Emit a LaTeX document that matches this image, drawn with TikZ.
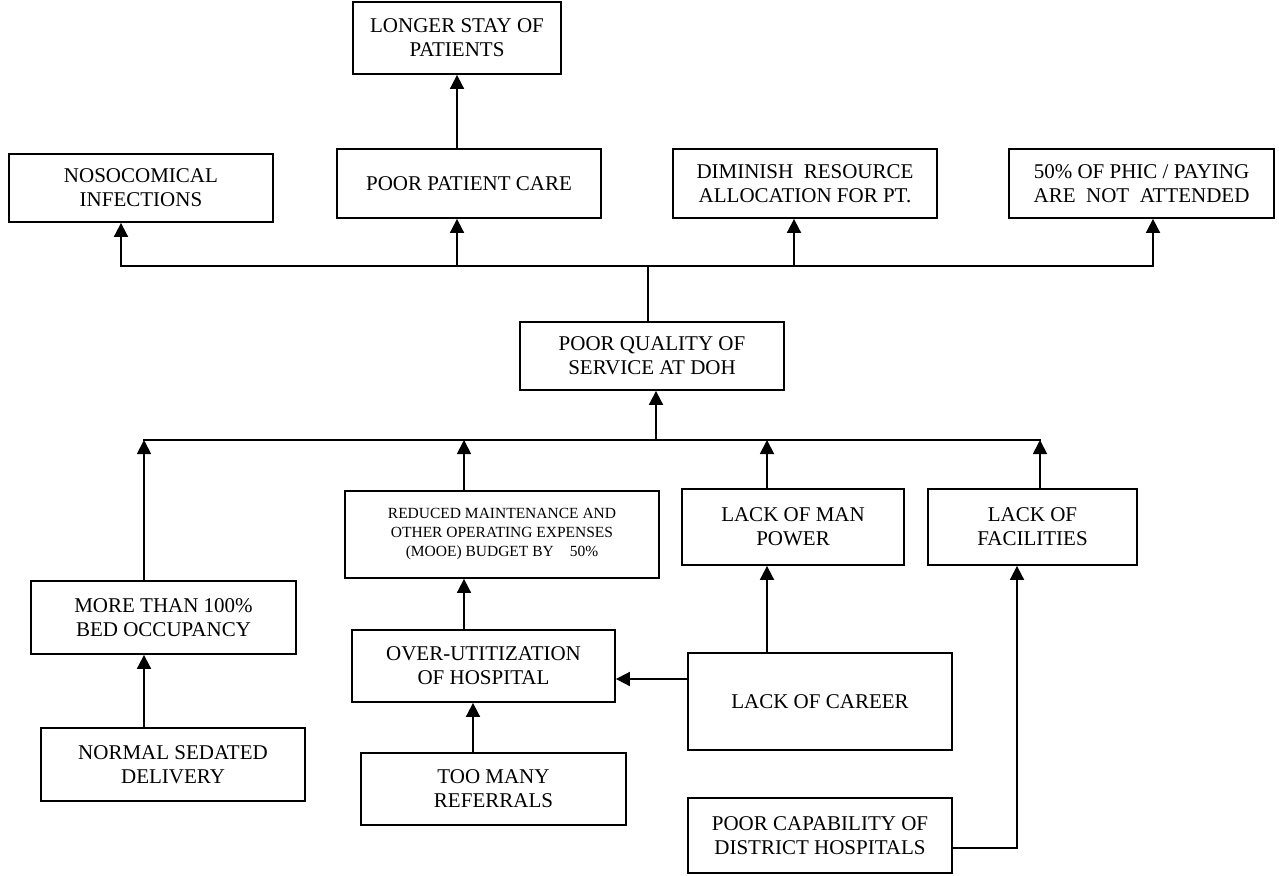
\documentclass[tikz,border=0pt]{standalone}
\usepackage{fontspec}
\setmainfont{Liberation Serif}
\usetikzlibrary{arrows.meta}
\begin{document}
\begin{tikzpicture}[x=1pt,y=-1pt,
  box/.style={draw, line width=1.8pt, rectangle, align=center, inner sep=0pt,
    font=\fontsize{21}{24}\selectfont},
  smallbox/.style={box, font=\fontsize{15.5}{19}\selectfont},
  ln/.style={line width=1.8pt, line cap=rect},
  arr/.style={line width=1.8pt, -{Triangle[width=14pt,length=14pt]}}]
\useasboundingbox (0,0) rectangle (1279,875);

% effects (top row)
\node[box, minimum width=208pt, minimum height=72pt] (longer) at (457,38) {LONGER STAY OF\\PATIENTS};
\node[box, minimum width=264pt, minimum height=68pt] (noso) at (141,188) {NOSOCOMICAL\\INFECTIONS};
\node[box, minimum width=264pt, minimum height=69pt] (ppc) at (469,183.5) {POOR PATIENT CARE};
\node[box, minimum width=264pt, minimum height=69pt] (dim) at (805,183.5) {DIMINISH\ \ RESOURCE\\ALLOCATION FOR PT.};
\node[box, minimum width=265pt, minimum height=69pt] (phic) at (1141.5,183.5) {50\% OF PHIC / PAYING\\ARE\ \ NOT\ \ ATTENDED};

% core problem
\node[box, minimum width=264pt, minimum height=68pt] (pq) at (652,356) {POOR QUALITY OF\\SERVICE AT DOH};

% causes
\node[box, minimum width=265pt, minimum height=73pt] (more) at (163.5,617.5) {MORE THAN 100\%\\BED OCCUPANCY};
\node[box, minimum width=264pt, minimum height=73pt] (normal) at (173,764.5) {NORMAL SEDATED\\DELIVERY};
\node[smallbox, minimum width=314pt, minimum height=87pt] (red) at (502,534.5)
  {REDUCED MAINTENANCE AND\\OTHER OPERATING EXPENSES\\(MOOE) BUDGET BY\hspace{16pt}50\%};
\node[box, minimum width=222pt, minimum height=76pt] (man) at (793,527) {LACK OF MAN\\POWER};
\node[box, minimum width=209pt, minimum height=76pt] (fac) at (1032.5,527) {LACK OF\\FACILITIES};
\node[box, minimum width=263pt, minimum height=72pt] (over) at (483.5,666) {OVER-UTITIZATION\\OF HOSPITAL};
\node[box, minimum width=265pt, minimum height=72pt] (many) at (493.5,789) {TOO MANY\\REFERRALS};
\node[box, minimum width=264pt, minimum height=97pt] (career) at (820,701.5) {LACK OF CAREER};
\node[box, minimum width=264pt, minimum height=75pt] (cap) at (820,835.5) {POOR CAPABILITY OF\\DISTRICT HOSPITALS};

% upper bus
\coordinate (t1) at (121,266);
\coordinate (t2) at (457,266);
\coordinate (t3) at (648,266);
\coordinate (t4) at (794,266);
\coordinate (t5) at (1153,266);
\draw[ln] (t1) -- (t5);
\draw[ln] (pq.north -| t3) -- (t3);
\draw[arr] (t1) -- (t1 |- noso.south);
\draw[arr] (t2) -- (t2 |- ppc.south);
\draw[arr] (t4) -- (t4 |- dim.south);
\draw[arr] (t5) -- (t5 |- phic.south);
\draw[arr] (ppc.north -| t2) -- (longer.south -| t2);

% lower bus
\coordinate (b1) at (144,440);
\coordinate (b2) at (464,440);
\coordinate (bq) at (656,440);
\coordinate (b3) at (767,440);
\coordinate (b4) at (1040,440);
\draw[ln] (b1) -- (b4);
\draw[arr] (bq) -- (bq |- pq.south);
\draw[arr] (more.north -| b1) -- (b1);
\draw[arr] (red.north -| b2) -- (b2);
\draw[arr] (man.north -| b3) -- (b3);
\draw[arr] (fac.north -| b4) -- (b4);

% cause chains
\coordinate (m1) at (473,0);
\coordinate (c1) at (0,679);
\coordinate (k1) at (1017,848);
\draw[arr] (normal.north -| b1) -- (more.south -| b1);
\draw[arr] (over.north -| b2) -- (red.south -| b2);
\draw[arr] (many.north -| m1) -- (over.south -| m1);
\draw[arr] (career.north -| b3) -- (man.south -| b3);
\draw[arr] (career.west |- c1) -- (over.east |- c1);
\draw[arr] (cap.east |- k1) -- (k1) -- (fac.south -| k1);
\end{tikzpicture}
\end{document}
